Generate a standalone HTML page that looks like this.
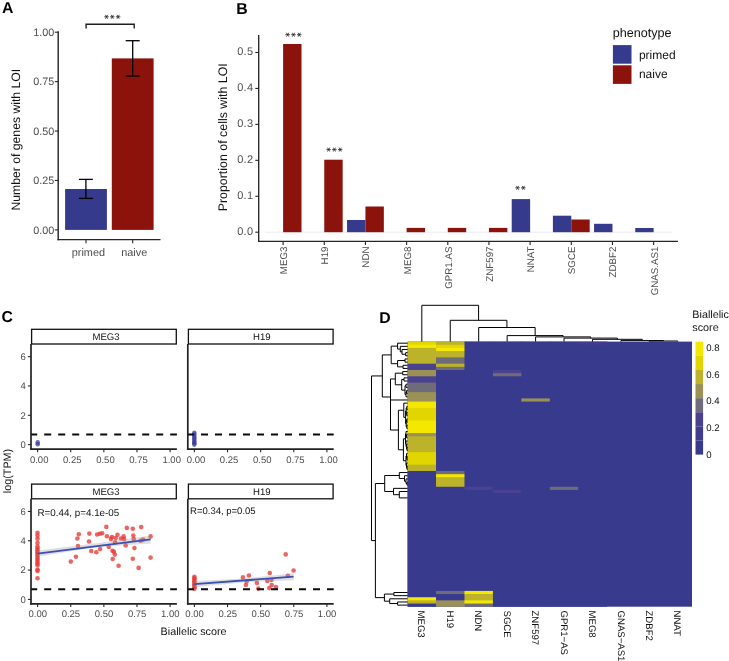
<!DOCTYPE html>
<html><head><meta charset="utf-8"><style>
html,body{margin:0;padding:0;background:#fff;}
svg{display:block;font-family:"Liberation Sans", sans-serif;will-change:transform;text-rendering:geometricPrecision;}
</style></head><body>
<svg width="729" height="661" viewBox="0 0 729 661">
<rect width="729" height="661" fill="#fff"/>
<text x="2.00" y="13.00" font-size="15.8" fill="#000" text-anchor="start" font-weight="bold" >A</text>
<line x1="58.20" y1="31.20" x2="58.20" y2="240.30" stroke="#262626" stroke-width="1.45" />
<line x1="57.50" y1="239.60" x2="160.50" y2="239.60" stroke="#262626" stroke-width="1.45" />
<line x1="54.80" y1="229.90" x2="58.20" y2="229.90" stroke="#262626" stroke-width="1.1" />
<text x="54.20" y="233.60" font-size="10.8" fill="#4d4d4d" text-anchor="end" font-weight="normal" >0.00</text>
<line x1="54.80" y1="180.48" x2="58.20" y2="180.48" stroke="#262626" stroke-width="1.1" />
<text x="54.20" y="184.18" font-size="10.8" fill="#4d4d4d" text-anchor="end" font-weight="normal" >0.25</text>
<line x1="54.80" y1="131.05" x2="58.20" y2="131.05" stroke="#262626" stroke-width="1.1" />
<text x="54.20" y="134.75" font-size="10.8" fill="#4d4d4d" text-anchor="end" font-weight="normal" >0.50</text>
<line x1="54.80" y1="81.63" x2="58.20" y2="81.63" stroke="#262626" stroke-width="1.1" />
<text x="54.20" y="85.33" font-size="10.8" fill="#4d4d4d" text-anchor="end" font-weight="normal" >0.75</text>
<line x1="54.80" y1="32.20" x2="58.20" y2="32.20" stroke="#262626" stroke-width="1.1" />
<text x="54.20" y="35.90" font-size="10.8" fill="#4d4d4d" text-anchor="end" font-weight="normal" >1.00</text>
<rect x="65.10" y="189.00" width="41.80" height="40.90" fill="#363a8d" />
<line x1="86.00" y1="239.60" x2="86.00" y2="243.20" stroke="#262626" stroke-width="1.1" />
<rect x="111.80" y="58.40" width="41.80" height="171.50" fill="#8c130c" />
<line x1="132.70" y1="239.60" x2="132.70" y2="243.20" stroke="#262626" stroke-width="1.1" />
<line x1="85.90" y1="179.40" x2="85.90" y2="198.40" stroke="#000" stroke-width="1.3" />
<line x1="78.90" y1="179.40" x2="92.90" y2="179.40" stroke="#000" stroke-width="1.3" />
<line x1="78.90" y1="198.40" x2="92.90" y2="198.40" stroke="#000" stroke-width="1.3" />
<line x1="132.70" y1="40.70" x2="132.70" y2="76.10" stroke="#000" stroke-width="1.3" />
<line x1="125.70" y1="40.70" x2="139.70" y2="40.70" stroke="#000" stroke-width="1.3" />
<line x1="125.70" y1="76.10" x2="139.70" y2="76.10" stroke="#000" stroke-width="1.3" />
<text x="88.40" y="255.60" font-size="10.9" fill="#4d4d4d" text-anchor="middle" font-weight="normal" >primed</text>
<text x="134.20" y="255.60" font-size="10.9" fill="#4d4d4d" text-anchor="middle" font-weight="normal" >naive</text>
<path d="M86.1 28.6 V24.2 H134.2 V28.6" fill="none" stroke="#1e1e1e" stroke-width="1.4"/>
<path d="M104.25 16.80 L108.75 16.80 M105.38 14.85 L107.62 18.75 M107.62 14.85 L105.38 18.75 M110.05 16.80 L114.55 16.80 M111.17 14.85 L113.42 18.75 M113.42 14.85 L111.17 18.75 M115.85 16.80 L120.35 16.80 M116.97 14.85 L119.22 18.75 M119.22 14.85 L116.97 18.75" stroke="#222" stroke-width="0.8" fill="none"/>
<text x="19.80" y="139.70" font-size="12.2" fill="#111" text-anchor="middle" font-weight="normal" transform="rotate(-90 19.80 139.70)" >Number of genes with LOI</text>
<text x="236.20" y="13.60" font-size="15.8" fill="#000" text-anchor="start" font-weight="bold" >B</text>
<line x1="258.70" y1="35.00" x2="258.70" y2="242.10" stroke="#262626" stroke-width="1.35" />
<line x1="258.00" y1="241.40" x2="678.00" y2="241.40" stroke="#262626" stroke-width="1.35" />
<line x1="255.30" y1="232.20" x2="258.70" y2="232.20" stroke="#262626" stroke-width="1.1" />
<text x="253.30" y="234.50" font-size="11" fill="#4d4d4d" text-anchor="end" font-weight="normal" letter-spacing="0.25">0.0</text>
<line x1="255.30" y1="196.26" x2="258.70" y2="196.26" stroke="#262626" stroke-width="1.1" />
<text x="253.30" y="198.56" font-size="11" fill="#4d4d4d" text-anchor="end" font-weight="normal" letter-spacing="0.25">0.1</text>
<line x1="255.30" y1="160.32" x2="258.70" y2="160.32" stroke="#262626" stroke-width="1.1" />
<text x="253.30" y="162.62" font-size="11" fill="#4d4d4d" text-anchor="end" font-weight="normal" letter-spacing="0.25">0.2</text>
<line x1="255.30" y1="124.38" x2="258.70" y2="124.38" stroke="#262626" stroke-width="1.1" />
<text x="253.30" y="126.68" font-size="11" fill="#4d4d4d" text-anchor="end" font-weight="normal" letter-spacing="0.25">0.3</text>
<line x1="255.30" y1="88.44" x2="258.70" y2="88.44" stroke="#262626" stroke-width="1.1" />
<text x="253.30" y="90.74" font-size="11" fill="#4d4d4d" text-anchor="end" font-weight="normal" letter-spacing="0.25">0.4</text>
<line x1="255.30" y1="52.50" x2="258.70" y2="52.50" stroke="#262626" stroke-width="1.1" />
<text x="253.30" y="54.80" font-size="11" fill="#4d4d4d" text-anchor="end" font-weight="normal" letter-spacing="0.25">0.5</text>
<line x1="265.00" y1="232.20" x2="672.50" y2="232.20" stroke="#ebe8f0" stroke-width="0.9" />
<rect x="283.10" y="43.98" width="18.40" height="188.22" fill="#8c130c" />
<line x1="283.10" y1="241.40" x2="283.10" y2="245.00" stroke="#262626" stroke-width="1.1" />
<text x="287.10" y="246.50" font-size="9.75" fill="#4d4d4d" text-anchor="end" font-weight="normal" transform="rotate(-90 287.10 246.50)" >MEG3</text>
<rect x="324.27" y="159.71" width="18.40" height="72.49" fill="#8c130c" />
<line x1="324.27" y1="241.40" x2="324.27" y2="245.00" stroke="#262626" stroke-width="1.1" />
<text x="328.27" y="246.50" font-size="9.75" fill="#4d4d4d" text-anchor="end" font-weight="normal" transform="rotate(-90 328.27 246.50)" >H19</text>
<rect x="347.04" y="219.98" width="18.40" height="12.22" fill="#363a8d" />
<rect x="365.44" y="206.50" width="18.40" height="25.70" fill="#8c130c" />
<line x1="365.44" y1="241.40" x2="365.44" y2="245.00" stroke="#262626" stroke-width="1.1" />
<text x="369.44" y="246.50" font-size="9.75" fill="#4d4d4d" text-anchor="end" font-weight="normal" transform="rotate(-90 369.44 246.50)" >NDN</text>
<rect x="406.61" y="227.89" width="18.40" height="4.31" fill="#8c130c" />
<line x1="406.61" y1="241.40" x2="406.61" y2="245.00" stroke="#262626" stroke-width="1.1" />
<text x="410.61" y="246.50" font-size="9.75" fill="#4d4d4d" text-anchor="end" font-weight="normal" transform="rotate(-90 410.61 246.50)" >MEG8</text>
<rect x="447.78" y="227.89" width="18.40" height="4.31" fill="#8c130c" />
<line x1="447.78" y1="241.40" x2="447.78" y2="245.00" stroke="#262626" stroke-width="1.1" />
<text x="451.78" y="246.50" font-size="9.75" fill="#4d4d4d" text-anchor="end" font-weight="normal" transform="rotate(-90 451.78 246.50)" >GPR1.AS</text>
<rect x="488.95" y="227.89" width="18.40" height="4.31" fill="#8c130c" />
<line x1="488.95" y1="241.40" x2="488.95" y2="245.00" stroke="#262626" stroke-width="1.1" />
<text x="492.95" y="246.50" font-size="9.75" fill="#4d4d4d" text-anchor="end" font-weight="normal" transform="rotate(-90 492.95 246.50)" >ZNF597</text>
<rect x="511.72" y="199.10" width="18.40" height="33.10" fill="#363a8d" />
<line x1="530.12" y1="241.40" x2="530.12" y2="245.00" stroke="#262626" stroke-width="1.1" />
<text x="534.12" y="246.50" font-size="9.75" fill="#4d4d4d" text-anchor="end" font-weight="normal" transform="rotate(-90 534.12 246.50)" >NNAT</text>
<rect x="552.89" y="215.70" width="18.40" height="16.50" fill="#363a8d" />
<rect x="571.29" y="219.51" width="18.40" height="12.69" fill="#8c130c" />
<line x1="571.29" y1="241.40" x2="571.29" y2="245.00" stroke="#262626" stroke-width="1.1" />
<text x="575.29" y="246.50" font-size="9.75" fill="#4d4d4d" text-anchor="end" font-weight="normal" transform="rotate(-90 575.29 246.50)" >SGCE</text>
<rect x="594.06" y="223.79" width="18.40" height="8.41" fill="#363a8d" />
<line x1="612.46" y1="241.40" x2="612.46" y2="245.00" stroke="#262626" stroke-width="1.1" />
<text x="616.46" y="246.50" font-size="9.75" fill="#4d4d4d" text-anchor="end" font-weight="normal" transform="rotate(-90 616.46 246.50)" >ZDBF2</text>
<rect x="635.23" y="228.00" width="18.40" height="4.20" fill="#363a8d" />
<line x1="653.63" y1="241.40" x2="653.63" y2="245.00" stroke="#262626" stroke-width="1.1" />
<text x="657.63" y="246.50" font-size="9.75" fill="#4d4d4d" text-anchor="end" font-weight="normal" transform="rotate(-90 657.63 246.50)" >GNAS.AS1</text>
<path d="M285.40 34.70 L289.90 34.70 M286.52 32.75 L288.77 36.65 M288.77 32.75 L286.52 36.65 M291.20 34.70 L295.70 34.70 M292.32 32.75 L294.57 36.65 M294.57 32.75 L292.32 36.65 M297.00 34.70 L301.50 34.70 M298.12 32.75 L300.38 36.65 M300.38 32.75 L298.12 36.65" stroke="#222" stroke-width="0.8" fill="none"/>
<path d="M326.35 149.60 L330.85 149.60 M327.47 147.65 L329.72 151.55 M329.72 147.65 L327.47 151.55 M332.15 149.60 L336.65 149.60 M333.27 147.65 L335.52 151.55 M335.52 147.65 L333.27 151.55 M337.95 149.60 L342.45 149.60 M339.07 147.65 L341.32 151.55 M341.32 147.65 L339.07 151.55" stroke="#222" stroke-width="0.8" fill="none"/>
<path d="M515.30 187.80 L519.80 187.80 M516.43 185.85 L518.68 189.75 M518.68 185.85 L516.43 189.75 M521.10 187.80 L525.60 187.80 M522.23 185.85 L524.48 189.75 M524.48 185.85 L522.23 189.75" stroke="#222" stroke-width="0.8" fill="none"/>
<text x="227.00" y="137.30" font-size="12.4" fill="#111" text-anchor="middle" font-weight="normal" transform="rotate(-90 227.00 137.30)" >Proportion of cells with LOI</text>
<text x="612.70" y="36.90" font-size="12.6" fill="#111" text-anchor="start" font-weight="normal" >phenotype</text>
<rect x="612.90" y="45.10" width="18.60" height="18.60" fill="#363a8d" />
<rect x="612.90" y="65.30" width="18.60" height="18.60" fill="#8c130c" />
<text x="638.90" y="58.60" font-size="12" fill="#111" text-anchor="start" font-weight="normal" >primed</text>
<text x="638.90" y="78.40" font-size="12" fill="#111" text-anchor="start" font-weight="normal" >naive</text>
<text x="1.60" y="321.80" font-size="15.8" fill="#000" text-anchor="start" font-weight="bold" >C</text>
<rect x="31.60" y="329.30" width="144.70" height="14.70" fill="#fff" stroke="#111" stroke-width="1.3"/>
<text x="106.00" y="339.80" font-size="9.6" fill="#111" text-anchor="middle" font-weight="normal" >MEG3</text>
<line x1="31.00" y1="344.00" x2="31.00" y2="449.95" stroke="#222" stroke-width="1.7" />
<line x1="30.15" y1="449.10" x2="176.90" y2="449.10" stroke="#222" stroke-width="1.7" />
<line x1="37.60" y1="449.10" x2="37.60" y2="452.30" stroke="#262626" stroke-width="1.1" />
<text x="39.20" y="462.50" font-size="9.5" fill="#4d4d4d" text-anchor="middle" font-weight="normal" >0.00</text>
<line x1="70.72" y1="449.10" x2="70.72" y2="452.30" stroke="#262626" stroke-width="1.1" />
<text x="72.32" y="462.50" font-size="9.5" fill="#4d4d4d" text-anchor="middle" font-weight="normal" >0.25</text>
<line x1="103.85" y1="449.10" x2="103.85" y2="452.30" stroke="#262626" stroke-width="1.1" />
<text x="105.45" y="462.50" font-size="9.5" fill="#4d4d4d" text-anchor="middle" font-weight="normal" >0.50</text>
<line x1="136.97" y1="449.10" x2="136.97" y2="452.30" stroke="#262626" stroke-width="1.1" />
<text x="138.57" y="462.50" font-size="9.5" fill="#4d4d4d" text-anchor="middle" font-weight="normal" >0.75</text>
<line x1="170.10" y1="449.10" x2="170.10" y2="452.30" stroke="#262626" stroke-width="1.1" />
<text x="171.70" y="462.50" font-size="9.5" fill="#4d4d4d" text-anchor="middle" font-weight="normal" >1.00</text>
<line x1="27.90" y1="444.60" x2="31.00" y2="444.60" stroke="#262626" stroke-width="1.1" />
<text x="25.70" y="448.00" font-size="9.5" fill="#4d4d4d" text-anchor="end" font-weight="normal" >0</text>
<line x1="27.90" y1="415.28" x2="31.00" y2="415.28" stroke="#262626" stroke-width="1.1" />
<text x="25.70" y="418.68" font-size="9.5" fill="#4d4d4d" text-anchor="end" font-weight="normal" >2</text>
<line x1="27.90" y1="385.96" x2="31.00" y2="385.96" stroke="#262626" stroke-width="1.1" />
<text x="25.70" y="389.36" font-size="9.5" fill="#4d4d4d" text-anchor="end" font-weight="normal" >4</text>
<line x1="27.90" y1="356.64" x2="31.00" y2="356.64" stroke="#262626" stroke-width="1.1" />
<text x="25.70" y="360.04" font-size="9.5" fill="#4d4d4d" text-anchor="end" font-weight="normal" >6</text>
<rect x="188.40" y="329.30" width="144.70" height="14.70" fill="#fff" stroke="#111" stroke-width="1.3"/>
<text x="261.80" y="339.80" font-size="9.6" fill="#111" text-anchor="middle" font-weight="normal" >H19</text>
<line x1="187.80" y1="344.00" x2="187.80" y2="449.95" stroke="#222" stroke-width="1.7" />
<line x1="186.95" y1="449.10" x2="333.70" y2="449.10" stroke="#222" stroke-width="1.7" />
<line x1="194.40" y1="449.10" x2="194.40" y2="452.30" stroke="#262626" stroke-width="1.1" />
<text x="196.00" y="462.50" font-size="9.5" fill="#4d4d4d" text-anchor="middle" font-weight="normal" >0.00</text>
<line x1="227.53" y1="449.10" x2="227.53" y2="452.30" stroke="#262626" stroke-width="1.1" />
<text x="229.12" y="462.50" font-size="9.5" fill="#4d4d4d" text-anchor="middle" font-weight="normal" >0.25</text>
<line x1="260.65" y1="449.10" x2="260.65" y2="452.30" stroke="#262626" stroke-width="1.1" />
<text x="262.25" y="462.50" font-size="9.5" fill="#4d4d4d" text-anchor="middle" font-weight="normal" >0.50</text>
<line x1="293.77" y1="449.10" x2="293.77" y2="452.30" stroke="#262626" stroke-width="1.1" />
<text x="295.38" y="462.50" font-size="9.5" fill="#4d4d4d" text-anchor="middle" font-weight="normal" >0.75</text>
<line x1="326.90" y1="449.10" x2="326.90" y2="452.30" stroke="#262626" stroke-width="1.1" />
<text x="328.50" y="462.50" font-size="9.5" fill="#4d4d4d" text-anchor="middle" font-weight="normal" >1.00</text>
<rect x="31.60" y="484.10" width="144.70" height="14.70" fill="#fff" stroke="#111" stroke-width="1.3"/>
<text x="106.00" y="494.60" font-size="9.6" fill="#111" text-anchor="middle" font-weight="normal" >MEG3</text>
<line x1="31.00" y1="498.80" x2="31.00" y2="604.75" stroke="#222" stroke-width="1.7" />
<line x1="30.15" y1="603.90" x2="176.90" y2="603.90" stroke="#222" stroke-width="1.7" />
<line x1="37.60" y1="603.90" x2="37.60" y2="607.10" stroke="#262626" stroke-width="1.1" />
<text x="37.80" y="617.30" font-size="9.5" fill="#4d4d4d" text-anchor="middle" font-weight="normal" >0.00</text>
<line x1="70.72" y1="603.90" x2="70.72" y2="607.10" stroke="#262626" stroke-width="1.1" />
<text x="70.92" y="617.30" font-size="9.5" fill="#4d4d4d" text-anchor="middle" font-weight="normal" >0.25</text>
<line x1="103.85" y1="603.90" x2="103.85" y2="607.10" stroke="#262626" stroke-width="1.1" />
<text x="104.05" y="617.30" font-size="9.5" fill="#4d4d4d" text-anchor="middle" font-weight="normal" >0.50</text>
<line x1="136.97" y1="603.90" x2="136.97" y2="607.10" stroke="#262626" stroke-width="1.1" />
<text x="137.17" y="617.30" font-size="9.5" fill="#4d4d4d" text-anchor="middle" font-weight="normal" >0.75</text>
<line x1="170.10" y1="603.90" x2="170.10" y2="607.10" stroke="#262626" stroke-width="1.1" />
<text x="170.30" y="617.30" font-size="9.5" fill="#4d4d4d" text-anchor="middle" font-weight="normal" >1.00</text>
<line x1="27.90" y1="599.40" x2="31.00" y2="599.40" stroke="#262626" stroke-width="1.1" />
<text x="25.70" y="602.80" font-size="9.5" fill="#4d4d4d" text-anchor="end" font-weight="normal" >0</text>
<line x1="27.90" y1="570.08" x2="31.00" y2="570.08" stroke="#262626" stroke-width="1.1" />
<text x="25.70" y="573.48" font-size="9.5" fill="#4d4d4d" text-anchor="end" font-weight="normal" >2</text>
<line x1="27.90" y1="540.76" x2="31.00" y2="540.76" stroke="#262626" stroke-width="1.1" />
<text x="25.70" y="544.16" font-size="9.5" fill="#4d4d4d" text-anchor="end" font-weight="normal" >4</text>
<line x1="27.90" y1="511.44" x2="31.00" y2="511.44" stroke="#262626" stroke-width="1.1" />
<text x="25.70" y="514.84" font-size="9.5" fill="#4d4d4d" text-anchor="end" font-weight="normal" >6</text>
<rect x="188.40" y="484.10" width="144.70" height="14.70" fill="#fff" stroke="#111" stroke-width="1.3"/>
<text x="261.80" y="494.60" font-size="9.6" fill="#111" text-anchor="middle" font-weight="normal" >H19</text>
<line x1="187.80" y1="498.80" x2="187.80" y2="604.75" stroke="#222" stroke-width="1.7" />
<line x1="186.95" y1="603.90" x2="333.70" y2="603.90" stroke="#222" stroke-width="1.7" />
<line x1="194.40" y1="603.90" x2="194.40" y2="607.10" stroke="#262626" stroke-width="1.1" />
<text x="194.60" y="617.30" font-size="9.5" fill="#4d4d4d" text-anchor="middle" font-weight="normal" >0.00</text>
<line x1="227.53" y1="603.90" x2="227.53" y2="607.10" stroke="#262626" stroke-width="1.1" />
<text x="227.72" y="617.30" font-size="9.5" fill="#4d4d4d" text-anchor="middle" font-weight="normal" >0.25</text>
<line x1="260.65" y1="603.90" x2="260.65" y2="607.10" stroke="#262626" stroke-width="1.1" />
<text x="260.85" y="617.30" font-size="9.5" fill="#4d4d4d" text-anchor="middle" font-weight="normal" >0.50</text>
<line x1="293.77" y1="603.90" x2="293.77" y2="607.10" stroke="#262626" stroke-width="1.1" />
<text x="293.97" y="617.30" font-size="9.5" fill="#4d4d4d" text-anchor="middle" font-weight="normal" >0.75</text>
<line x1="326.90" y1="603.90" x2="326.90" y2="607.10" stroke="#262626" stroke-width="1.1" />
<text x="327.10" y="617.30" font-size="9.5" fill="#4d4d4d" text-anchor="middle" font-weight="normal" >1.00</text>
<circle cx="37.7" cy="442.4" r="2.3" fill="#33399a" fill-opacity="0.72"/>
<circle cx="37.7" cy="444.2" r="2.3" fill="#33399a" fill-opacity="0.72"/>
<circle cx="194.3" cy="432.8" r="2.3" fill="#33399a" fill-opacity="0.72"/>
<circle cx="194.3" cy="434.6" r="2.3" fill="#33399a" fill-opacity="0.72"/>
<circle cx="194.3" cy="436.4" r="2.3" fill="#33399a" fill-opacity="0.72"/>
<circle cx="194.3" cy="438.2" r="2.3" fill="#33399a" fill-opacity="0.72"/>
<circle cx="194.3" cy="440.0" r="2.3" fill="#33399a" fill-opacity="0.72"/>
<circle cx="194.3" cy="441.7" r="2.3" fill="#33399a" fill-opacity="0.72"/>
<circle cx="194.3" cy="443.3" r="2.3" fill="#33399a" fill-opacity="0.72"/>
<circle cx="194.3" cy="444.6" r="2.3" fill="#33399a" fill-opacity="0.72"/>
<circle cx="37.5" cy="532.7" r="2.3" fill="#e73a34" fill-opacity="0.78"/>
<circle cx="37.5" cy="535.6" r="2.3" fill="#e73a34" fill-opacity="0.78"/>
<circle cx="37.5" cy="538.7" r="2.3" fill="#e73a34" fill-opacity="0.78"/>
<circle cx="37.5" cy="542.9" r="2.3" fill="#e73a34" fill-opacity="0.78"/>
<circle cx="37.5" cy="546.6" r="2.3" fill="#e73a34" fill-opacity="0.78"/>
<circle cx="37.5" cy="548.6" r="2.3" fill="#e73a34" fill-opacity="0.78"/>
<circle cx="37.5" cy="550.4" r="2.3" fill="#e73a34" fill-opacity="0.78"/>
<circle cx="37.5" cy="552.2" r="2.3" fill="#e73a34" fill-opacity="0.78"/>
<circle cx="37.5" cy="554.1" r="2.3" fill="#e73a34" fill-opacity="0.78"/>
<circle cx="37.5" cy="556.0" r="2.3" fill="#e73a34" fill-opacity="0.78"/>
<circle cx="37.5" cy="557.9" r="2.3" fill="#e73a34" fill-opacity="0.78"/>
<circle cx="37.5" cy="559.8" r="2.3" fill="#e73a34" fill-opacity="0.78"/>
<circle cx="37.5" cy="561.7" r="2.3" fill="#e73a34" fill-opacity="0.78"/>
<circle cx="37.5" cy="563.6" r="2.3" fill="#e73a34" fill-opacity="0.78"/>
<circle cx="37.5" cy="565.2" r="2.3" fill="#e73a34" fill-opacity="0.78"/>
<circle cx="37.5" cy="569.6" r="2.3" fill="#e73a34" fill-opacity="0.78"/>
<circle cx="37.5" cy="570.9" r="2.3" fill="#e73a34" fill-opacity="0.78"/>
<circle cx="37.5" cy="578.2" r="2.3" fill="#e73a34" fill-opacity="0.78"/>
<circle cx="70.8" cy="561.6" r="2.3" fill="#e73a34" fill-opacity="0.78"/>
<circle cx="75.9" cy="556.8" r="2.3" fill="#e73a34" fill-opacity="0.78"/>
<circle cx="78.0" cy="546.0" r="2.3" fill="#e73a34" fill-opacity="0.78"/>
<circle cx="77.4" cy="538.5" r="2.3" fill="#e73a34" fill-opacity="0.78"/>
<circle cx="78.8" cy="534.3" r="2.3" fill="#e73a34" fill-opacity="0.78"/>
<circle cx="89.3" cy="533.6" r="2.3" fill="#e73a34" fill-opacity="0.78"/>
<circle cx="89.0" cy="541.5" r="2.3" fill="#e73a34" fill-opacity="0.78"/>
<circle cx="91.2" cy="551.0" r="2.3" fill="#e73a34" fill-opacity="0.78"/>
<circle cx="96.3" cy="552.3" r="2.3" fill="#e73a34" fill-opacity="0.78"/>
<circle cx="97.1" cy="534.5" r="2.3" fill="#e73a34" fill-opacity="0.78"/>
<circle cx="99.8" cy="533.8" r="2.3" fill="#e73a34" fill-opacity="0.78"/>
<circle cx="102.2" cy="533.2" r="2.3" fill="#e73a34" fill-opacity="0.78"/>
<circle cx="106.3" cy="526.9" r="2.3" fill="#e73a34" fill-opacity="0.78"/>
<circle cx="106.9" cy="536.2" r="2.3" fill="#e73a34" fill-opacity="0.78"/>
<circle cx="112.0" cy="537.0" r="2.3" fill="#e73a34" fill-opacity="0.78"/>
<circle cx="110.9" cy="538.9" r="2.3" fill="#e73a34" fill-opacity="0.78"/>
<circle cx="115.7" cy="538.0" r="2.3" fill="#e73a34" fill-opacity="0.78"/>
<circle cx="117.5" cy="534.8" r="2.3" fill="#e73a34" fill-opacity="0.78"/>
<circle cx="115.1" cy="542.2" r="2.3" fill="#e73a34" fill-opacity="0.78"/>
<circle cx="121.0" cy="538.5" r="2.3" fill="#e73a34" fill-opacity="0.78"/>
<circle cx="123.6" cy="536.4" r="2.3" fill="#e73a34" fill-opacity="0.78"/>
<circle cx="124.1" cy="539.1" r="2.3" fill="#e73a34" fill-opacity="0.78"/>
<circle cx="126.8" cy="527.9" r="2.3" fill="#e73a34" fill-opacity="0.78"/>
<circle cx="132.8" cy="528.8" r="2.3" fill="#e73a34" fill-opacity="0.78"/>
<circle cx="141.2" cy="527.1" r="2.3" fill="#e73a34" fill-opacity="0.78"/>
<circle cx="133.3" cy="535.6" r="2.3" fill="#e73a34" fill-opacity="0.78"/>
<circle cx="133.7" cy="539.1" r="2.3" fill="#e73a34" fill-opacity="0.78"/>
<circle cx="140.6" cy="540.7" r="2.3" fill="#e73a34" fill-opacity="0.78"/>
<circle cx="143.2" cy="539.6" r="2.3" fill="#e73a34" fill-opacity="0.78"/>
<circle cx="150.6" cy="536.4" r="2.3" fill="#e73a34" fill-opacity="0.78"/>
<circle cx="125.7" cy="545.4" r="2.3" fill="#e73a34" fill-opacity="0.78"/>
<circle cx="134.4" cy="548.1" r="2.3" fill="#e73a34" fill-opacity="0.78"/>
<circle cx="100.1" cy="549.1" r="2.3" fill="#e73a34" fill-opacity="0.78"/>
<circle cx="108.8" cy="547.0" r="2.3" fill="#e73a34" fill-opacity="0.78"/>
<circle cx="112.5" cy="550.7" r="2.3" fill="#e73a34" fill-opacity="0.78"/>
<circle cx="113.9" cy="551.8" r="2.3" fill="#e73a34" fill-opacity="0.78"/>
<circle cx="114.8" cy="554.6" r="2.3" fill="#e73a34" fill-opacity="0.78"/>
<circle cx="112.7" cy="559.0" r="2.3" fill="#e73a34" fill-opacity="0.78"/>
<circle cx="132.8" cy="558.7" r="2.3" fill="#e73a34" fill-opacity="0.78"/>
<circle cx="150.6" cy="557.6" r="2.3" fill="#e73a34" fill-opacity="0.78"/>
<circle cx="118.6" cy="565.8" r="2.3" fill="#e73a34" fill-opacity="0.78"/>
<circle cx="138.6" cy="567.9" r="2.3" fill="#e73a34" fill-opacity="0.78"/>
<circle cx="194.4" cy="576.8" r="2.3" fill="#e73a34" fill-opacity="0.78"/>
<circle cx="194.4" cy="578.3" r="2.3" fill="#e73a34" fill-opacity="0.78"/>
<circle cx="194.4" cy="579.8" r="2.3" fill="#e73a34" fill-opacity="0.78"/>
<circle cx="194.4" cy="581.3" r="2.3" fill="#e73a34" fill-opacity="0.78"/>
<circle cx="194.4" cy="582.8" r="2.3" fill="#e73a34" fill-opacity="0.78"/>
<circle cx="194.4" cy="584.3" r="2.3" fill="#e73a34" fill-opacity="0.78"/>
<circle cx="194.4" cy="585.8" r="2.3" fill="#e73a34" fill-opacity="0.78"/>
<circle cx="194.4" cy="587.3" r="2.3" fill="#e73a34" fill-opacity="0.78"/>
<circle cx="194.4" cy="588.8" r="2.3" fill="#e73a34" fill-opacity="0.78"/>
<circle cx="242.9" cy="577.4" r="2.3" fill="#e73a34" fill-opacity="0.78"/>
<circle cx="248.9" cy="575.5" r="2.3" fill="#e73a34" fill-opacity="0.78"/>
<circle cx="246.7" cy="581.5" r="2.3" fill="#e73a34" fill-opacity="0.78"/>
<circle cx="245.9" cy="585.0" r="2.3" fill="#e73a34" fill-opacity="0.78"/>
<circle cx="256.9" cy="582.9" r="2.3" fill="#e73a34" fill-opacity="0.78"/>
<circle cx="258.3" cy="588.6" r="2.3" fill="#e73a34" fill-opacity="0.78"/>
<circle cx="267.3" cy="580.9" r="2.3" fill="#e73a34" fill-opacity="0.78"/>
<circle cx="269.8" cy="573.0" r="2.3" fill="#e73a34" fill-opacity="0.78"/>
<circle cx="271.4" cy="580.0" r="2.3" fill="#e73a34" fill-opacity="0.78"/>
<circle cx="271.7" cy="585.0" r="2.3" fill="#e73a34" fill-opacity="0.78"/>
<circle cx="269.3" cy="588.1" r="2.3" fill="#e73a34" fill-opacity="0.78"/>
<circle cx="276.0" cy="587.0" r="2.3" fill="#e73a34" fill-opacity="0.78"/>
<circle cx="285.7" cy="554.4" r="2.3" fill="#e73a34" fill-opacity="0.78"/>
<circle cx="287.9" cy="575.8" r="2.3" fill="#e73a34" fill-opacity="0.78"/>
<circle cx="293.6" cy="570.5" r="2.3" fill="#e73a34" fill-opacity="0.78"/>
<path d="M37.5 550.6 L94 543.6 L150.6 535.4 L150.6 543.4 L94 547.6 L37.5 556.8 Z" fill="#999" fill-opacity="0.32"/>
<path d="M194.4 581.1 L245 578.4 L293.6 573.2 L293.6 580.2 L245 582.2 L194.4 587.3 Z" fill="#999" fill-opacity="0.32"/>
<line x1="37.50" y1="553.60" x2="150.60" y2="539.30" stroke="#3a4fb5" stroke-width="1.85" />
<line x1="194.40" y1="584.20" x2="293.60" y2="576.60" stroke="#3a4fb5" stroke-width="1.85" />
<line x1="31.20" y1="434.45" x2="176.90" y2="434.45" stroke="#0a0a0a" stroke-width="1.85" stroke-dasharray="7 7" stroke-dashoffset="1.0"/>
<line x1="188.00" y1="434.45" x2="333.70" y2="434.45" stroke="#0a0a0a" stroke-width="1.85" stroke-dasharray="7 7" stroke-dashoffset="1.0"/>
<line x1="31.20" y1="589.25" x2="176.90" y2="589.25" stroke="#0a0a0a" stroke-width="1.85" stroke-dasharray="7 7" stroke-dashoffset="1.0"/>
<line x1="188.00" y1="589.25" x2="333.70" y2="589.25" stroke="#0a0a0a" stroke-width="1.85" stroke-dasharray="7 7" stroke-dashoffset="1.0"/>
<text x="37.50" y="515.60" font-size="9.8" fill="#111" text-anchor="start" font-weight="normal" >R=0.44, p=4.1e-05</text>
<text x="190.10" y="514.00" font-size="9.5" fill="#111" text-anchor="start" font-weight="normal" >R=0.34, p=0.05</text>
<text x="10.50" y="471.00" font-size="10.8" fill="#111" text-anchor="middle" font-weight="normal" transform="rotate(-90 10.50 471.00)" >log(TPM)</text>
<text x="193.60" y="635.10" font-size="10.8" fill="#111" text-anchor="middle" font-weight="normal" >Biallelic score</text>
<text x="379.30" y="322.60" font-size="15.8" fill="#000" text-anchor="start" font-weight="bold" >D</text>
<rect x="407.60" y="341.60" width="284.40" height="265.10" fill="#383a8e" />
<rect x="407.60" y="341.60" width="29.04" height="3.76" fill="#e1d600" />
<rect x="407.60" y="344.76" width="29.04" height="3.76" fill="#f4e800" />
<rect x="407.60" y="347.91" width="29.04" height="16.38" fill="#bdb32a" />
<rect x="407.60" y="363.69" width="29.04" height="6.91" fill="#4a4290" />
<rect x="407.60" y="370.00" width="29.04" height="6.91" fill="#9b9157" />
<rect x="407.60" y="376.32" width="29.04" height="6.91" fill="#4a4290" />
<rect x="407.60" y="382.63" width="29.04" height="10.07" fill="#6f6c7a" />
<rect x="407.60" y="392.10" width="29.04" height="10.07" fill="#9b9157" />
<rect x="407.60" y="401.56" width="29.04" height="6.91" fill="#f4e800" />
<rect x="407.60" y="407.88" width="29.04" height="13.22" fill="#e1d600" />
<rect x="407.60" y="420.50" width="29.04" height="13.22" fill="#f4e800" />
<rect x="407.60" y="433.12" width="29.04" height="3.76" fill="#9b9157" />
<rect x="407.60" y="436.28" width="29.04" height="16.38" fill="#bdb32a" />
<rect x="407.60" y="452.06" width="29.04" height="13.22" fill="#e1d600" />
<rect x="407.60" y="464.68" width="29.04" height="6.91" fill="#bdb32a" />
<rect x="407.60" y="470.99" width="29.04" height="126.84" fill="#383a8e" />
<rect x="407.60" y="597.23" width="29.04" height="3.76" fill="#f4e800" />
<rect x="407.60" y="600.39" width="29.04" height="3.76" fill="#bdb32a" />
<rect x="407.60" y="603.54" width="29.04" height="3.16" fill="#383a8e" />
<rect x="436.04" y="341.60" width="29.04" height="3.76" fill="#bdb32a" />
<rect x="436.04" y="344.76" width="29.04" height="3.76" fill="#e1d600" />
<rect x="436.04" y="347.91" width="29.04" height="3.76" fill="#f4e800" />
<rect x="436.04" y="351.07" width="29.04" height="6.91" fill="#bdb32a" />
<rect x="436.04" y="357.38" width="29.04" height="6.91" fill="#6f6c7a" />
<rect x="436.04" y="363.69" width="29.04" height="3.76" fill="#bdb32a" />
<rect x="436.04" y="366.85" width="29.04" height="3.76" fill="#6f6c7a" />
<rect x="436.04" y="370.00" width="29.04" height="101.59" fill="#383a8e" />
<rect x="436.04" y="470.99" width="29.04" height="3.76" fill="#6f6c7a" />
<rect x="436.04" y="474.15" width="29.04" height="3.76" fill="#f4e800" />
<rect x="436.04" y="477.31" width="29.04" height="10.07" fill="#bdb32a" />
<rect x="436.04" y="486.77" width="29.04" height="104.75" fill="#383a8e" />
<rect x="436.04" y="590.92" width="29.04" height="3.76" fill="#6f6c7a" />
<rect x="436.04" y="594.08" width="29.04" height="6.91" fill="#383a8e" />
<rect x="436.04" y="600.39" width="29.04" height="6.31" fill="#9b9157" />
<rect x="464.48" y="341.60" width="29.04" height="145.77" fill="#383a8e" />
<rect x="464.48" y="486.77" width="29.04" height="3.76" fill="#4a4290" />
<rect x="464.48" y="489.93" width="29.04" height="101.59" fill="#383a8e" />
<rect x="464.48" y="590.92" width="29.04" height="3.76" fill="#f4e800" />
<rect x="464.48" y="594.08" width="29.04" height="6.91" fill="#bdb32a" />
<rect x="464.48" y="600.39" width="29.04" height="3.76" fill="#f4e800" />
<rect x="464.48" y="603.54" width="29.04" height="3.16" fill="#6f6c7a" />
<rect x="492.92" y="341.60" width="29.04" height="29.00" fill="#383a8e" />
<rect x="492.92" y="370.00" width="29.04" height="3.76" fill="#4a4290" />
<rect x="492.92" y="373.16" width="29.04" height="3.76" fill="#6f6c7a" />
<rect x="492.92" y="376.32" width="29.04" height="114.21" fill="#383a8e" />
<rect x="492.92" y="489.93" width="29.04" height="3.76" fill="#4a4290" />
<rect x="492.92" y="493.09" width="29.04" height="113.61" fill="#383a8e" />
<rect x="521.36" y="341.60" width="29.04" height="57.41" fill="#383a8e" />
<rect x="521.36" y="398.41" width="29.04" height="3.76" fill="#9b9157" />
<rect x="521.36" y="401.56" width="29.04" height="205.14" fill="#383a8e" />
<rect x="549.80" y="341.60" width="29.04" height="145.77" fill="#383a8e" />
<rect x="549.80" y="486.77" width="29.04" height="3.76" fill="#6f6c7a" />
<rect x="549.80" y="489.93" width="29.04" height="116.77" fill="#383a8e" />
<rect x="578.24" y="341.60" width="29.04" height="3.76" fill="#403c8e" />
<rect x="578.24" y="344.76" width="29.04" height="261.94" fill="#383a8e" />
<path d="M421.82 341.60 V305.30 H478.59 V320.30 M450.26 341.60 V320.30 H506.92 V327.50 M478.70 341.60 V327.50 H535.14 V335.60 M507.14 341.60 V335.60 H563.13 V336.90 M535.58 341.60 V336.90 H590.68 V338.10 M564.02 341.60 V338.10 H617.35 V339.30 M592.46 341.60 V339.30 H642.23 V340.60 M620.90 341.60 V340.60 H663.56 V341.00 M649.34 341.60 V341.00 H677.78 V341.60" fill="none" stroke="#000" stroke-width="1.0"/>
<path d="M407.60 352.65 H405.70 V355.80 H407.60 M407.60 349.49 H402.00 V354.22 H405.70 M407.60 346.33 H400.30 V351.86 H402.00 M407.60 343.18 H397.60 V349.10 H400.30 M407.60 358.96 H405.00 V362.11 H407.60 M407.60 365.27 H403.00 V368.43 H407.60 M405.00 360.54 H397.60 V366.85 H403.00 M397.60 346.14 H391.20 V363.69 H397.60 M407.60 371.58 H402.70 V374.74 H407.60 M407.60 377.89 H404.00 V381.05 H407.60 M407.60 384.21 H406.00 V387.36 H407.60 M407.60 390.52 H406.60 V393.67 H407.60 M406.60 392.10 H406.00 V396.83 H407.60 M406.00 385.78 H405.00 V394.46 H406.00 M404.00 379.47 H401.70 V390.12 H405.00 M402.70 373.16 H395.30 V384.80 H401.70 M407.60 406.30 H406.80 V409.45 H407.60 M407.60 412.61 H406.80 V415.76 H407.60 M406.80 407.88 H406.20 V414.19 H406.80 M407.60 418.92 H406.80 V422.08 H407.60 M407.60 425.23 H406.80 V428.39 H407.60 M406.80 420.50 H406.20 V426.81 H406.80 M406.20 411.03 H405.60 V423.65 H406.20 M407.60 403.14 H403.80 V417.34 H405.60 M407.60 434.70 H406.60 V437.86 H407.60 M407.60 431.54 H406.00 V436.28 H406.60 M407.60 447.32 H407.00 V450.48 H407.60 M407.60 444.17 H406.60 V448.90 H407.00 M407.60 441.01 H406.00 V446.54 H406.60 M406.00 433.91 H405.50 V443.77 H406.00 M407.60 456.79 H407.00 V459.95 H407.60 M407.60 453.64 H406.50 V458.37 H407.00 M407.60 466.26 H407.00 V469.42 H407.60 M407.60 463.10 H406.50 V467.84 H407.00 M406.50 456.00 H406.00 V465.47 H406.50 M405.50 438.84 H403.40 V460.74 H406.00 M403.80 410.24 H398.40 V449.79 H403.40 M407.60 399.99 H390.50 V430.02 H398.40 M395.30 378.98 H390.50 V415.00 H390.50 M391.20 354.91 H382.30 V396.99 H390.50 M407.60 482.04 H407.00 V485.20 H407.60 M407.60 478.88 H406.00 V483.62 H407.00 M407.60 475.73 H404.50 V481.25 H406.00 M407.60 472.57 H399.30 V478.49 H404.50 M407.60 491.51 H399.30 V497.90 H407.60 M407.60 488.35 H393.50 V494.70 H399.30 M399.30 475.53 H384.70 V491.53 H393.50 M407.60 592.50 H393.90 V595.65 H407.60 M407.60 601.97 H397.60 V605.12 H407.60 M407.60 598.81 H389.70 V603.54 H397.60 M393.90 594.08 H384.40 V601.18 H389.70 M384.70 483.53 H375.40 V597.63 H384.40 M382.30 375.95 H371.50 V540.58 H375.40" fill="none" stroke="#000" stroke-width="1.0"/>
<text x="418.42" y="610.50" font-size="9.6" fill="#111" text-anchor="start" font-weight="normal" transform="rotate(90 418.42 610.50)" >MEG3</text>
<text x="446.86" y="610.50" font-size="9.6" fill="#111" text-anchor="start" font-weight="normal" transform="rotate(90 446.86 610.50)" >H19</text>
<text x="475.30" y="610.50" font-size="9.6" fill="#111" text-anchor="start" font-weight="normal" transform="rotate(90 475.30 610.50)" >NDN</text>
<text x="503.74" y="610.50" font-size="9.6" fill="#111" text-anchor="start" font-weight="normal" transform="rotate(90 503.74 610.50)" >SGCE</text>
<text x="532.18" y="610.50" font-size="9.6" fill="#111" text-anchor="start" font-weight="normal" transform="rotate(90 532.18 610.50)" >ZNF597</text>
<text x="560.62" y="610.50" font-size="9.6" fill="#111" text-anchor="start" font-weight="normal" transform="rotate(90 560.62 610.50)" >GPR1−AS</text>
<text x="589.06" y="610.50" font-size="9.6" fill="#111" text-anchor="start" font-weight="normal" transform="rotate(90 589.06 610.50)" >MEG8</text>
<text x="617.50" y="610.50" font-size="9.6" fill="#111" text-anchor="start" font-weight="normal" transform="rotate(90 617.50 610.50)" >GNAS−AS1</text>
<text x="645.94" y="610.50" font-size="9.6" fill="#111" text-anchor="start" font-weight="normal" transform="rotate(90 645.94 610.50)" >ZDBF2</text>
<text x="674.38" y="610.50" font-size="9.6" fill="#111" text-anchor="start" font-weight="normal" transform="rotate(90 674.38 610.50)" >NNAT</text>
<rect x="695.50" y="341.70" width="7.60" height="14.13" fill="#f4e800" />
<rect x="695.50" y="355.81" width="7.60" height="14.13" fill="#e1d600" />
<rect x="695.50" y="369.93" width="7.60" height="14.13" fill="#bdb32a" />
<rect x="695.50" y="384.04" width="7.60" height="14.13" fill="#9b9157" />
<rect x="695.50" y="398.15" width="7.60" height="14.13" fill="#6f6c7a" />
<rect x="695.50" y="412.26" width="7.60" height="14.13" fill="#4a4290" />
<rect x="695.50" y="426.38" width="7.60" height="14.13" fill="#403c8e" />
<rect x="695.50" y="440.49" width="7.60" height="14.13" fill="#383a8e" />
<text x="706.20" y="351.10" font-size="9.6" fill="#111" text-anchor="start" font-weight="normal" >0.8</text>
<text x="706.20" y="377.70" font-size="9.6" fill="#111" text-anchor="start" font-weight="normal" >0.6</text>
<text x="706.20" y="404.30" font-size="9.6" fill="#111" text-anchor="start" font-weight="normal" >0.4</text>
<text x="706.20" y="430.90" font-size="9.6" fill="#111" text-anchor="start" font-weight="normal" >0.2</text>
<text x="706.20" y="457.50" font-size="9.6" fill="#111" text-anchor="start" font-weight="normal" >0</text>
<text x="692.30" y="318.40" font-size="10.8" fill="#111" text-anchor="start" font-weight="normal" >Biallelic</text>
<text x="692.30" y="331.20" font-size="10.8" fill="#111" text-anchor="start" font-weight="normal" >score</text>
</svg></body></html>
